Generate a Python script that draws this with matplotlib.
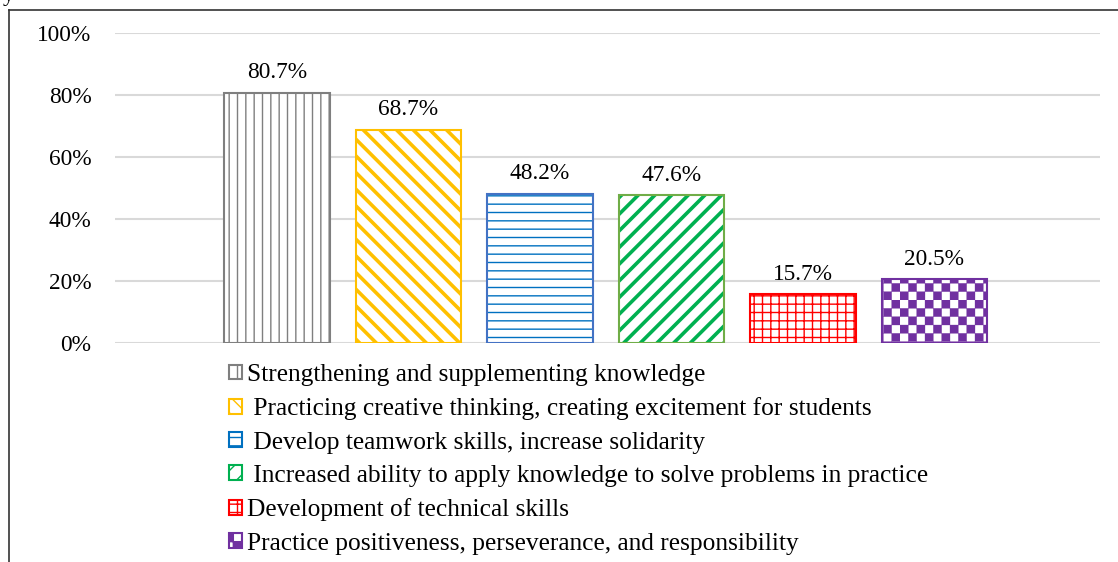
import warnings
import matplotlib
matplotlib.use('Agg')
import matplotlib.pyplot as plt
import matplotlib.hatch as mhatch
from matplotlib.path import Path
from matplotlib.patches import Patch
from matplotlib.lines import Line2D

# '#' is a home-made hatch char, matplotlib warns about it
warnings.filterwarnings('ignore')

plt.rcParams['font.family'] = ['Liberation Serif', 'DejaVu Serif']

# data
labels = ['Strengthening and supplementing knowledge',
          ' Practicing creative thinking, creating excitement for students',
          ' Develop teamwork skills, increase solidarity',
          ' Increased ability to apply knowledge to solve problems in practice',
          'Development of technical skills',
          'Practice positiveness, perseverance, and responsibility']
values = [80.7, 68.7, 48.2, 47.6, 15.7, 20.5]
yticks = [0, 20, 40, 60, 80, 100]
ytick_labels = ['0%', '20%', '40%', '60%', '80%', '100%']

# styles
edge_colors = ['#7F7F7F', '#FFC000', '#4472C4', '#70AD47', '#FF0000', '#7030A0']
hatch_colors = ['#7F7F7F', '#FFC000', '#0070C0', '#00B050', '#FF0000', '#7030A0']
hatches = ['||', '\\\\', '--', '//', '++', '##']
hatch_widths = [1.0, 2.6, 1.0, 2.6, 1.0, 0.2]


# checkerboard hatch, triggered by '#'
class CheckerHatch(mhatch.HatchPatternBase):
    def __init__(self, hatch, density):
        n = hatch.count('#') * density
        self.n = n - n % 2
        self.num_vertices = (self.n * self.n // 2) * 5

    def set_vertices_and_codes(self, vertices, codes):
        step = 1.0 / self.n
        k = 0
        for i in range(self.n):
            for j in range(self.n):
                if (i + j) % 2:
                    continue
                x0, y0 = i * step, j * step
                vertices[k:k + 5] = [(x0, y0), (x0 + step, y0), (x0 + step, y0 + step),
                                     (x0, y0 + step), (x0, y0)]
                codes[k:k + 5] = [Path.MOVETO, Path.LINETO, Path.LINETO,
                                  Path.LINETO, Path.CLOSEPOLY]
                k += 5


mhatch._hatch_types.append(CheckerHatch)

fig = plt.figure(figsize=(11.18, 5.62), dpi=100)
ax = fig.add_axes([115 / 1118, 219 / 562, 985 / 1118, 310 / 562])

x = list(range(len(values)))
for i, v in enumerate(values):
    # hatch layer
    b = ax.bar(x[i], v, width=0.8, color='white', edgecolor=hatch_colors[i],
               hatch=hatches[i], linewidth=0, zorder=2)
    for p in b:
        if hasattr(p, 'set_hatch_linewidth'):
            p.set_hatch_linewidth(hatch_widths[i])
    # outline
    ax.bar(x[i], v, width=0.8, fill=False, edgecolor=edge_colors[i],
           linewidth=1.5, zorder=3)
    ax.bar_label(b, labels=[f'{v:.1f}%'], padding=7, fontsize=16.8)

ax.set_xlim(-1.232, 6.259)
ax.set_ylim(0, 100)
ax.set_yticks(yticks)
ax.set_yticklabels(ytick_labels, fontsize=16.8)
ax.set_xticks([])
ax.tick_params(axis='y', length=0, pad=17)
ax.grid(axis='y', color='#D9D9D9', linewidth=1.5, zorder=0)
ax.set_axisbelow(True)
for s in ax.spines.values():
    s.set_visible(False)

# legend below, one entry per row
handles = []
for i in range(len(values)):
    h = Patch(facecolor='white', edgecolor=hatch_colors[i], hatch=hatches[i],
              linewidth=1.5)
    if hasattr(h, 'set_hatch_linewidth'):
        h.set_hatch_linewidth(hatch_widths[i])
    handles.append(h)
fig.legend(handles, labels, loc='upper left', bbox_to_anchor=(229 / 1118, 1 - 364 / 562),
           ncol=1, frameon=False, fontsize=18.3, handlelength=0.52, handleheight=0.52,
           handletextpad=0.2, labelspacing=0.445, borderpad=0, borderaxespad=0)

# frame lines around the figure
fig.add_artist(Line2D([9 / 1118, 1], [1 - 10 / 562, 1 - 10 / 562], color='#333333',
                      linewidth=1.2, transform=fig.transFigure))
fig.add_artist(Line2D([9 / 1118, 9 / 1118], [0, 1 - 10 / 562], color='#333333',
                      linewidth=1.2, transform=fig.transFigure))
# tail of a caption cut off at the top
fig.text(3 / 1118, 1 - 1 / 562, 'y', fontsize=16.5, va='baseline')

fig.savefig('out.png', dpi=100)
